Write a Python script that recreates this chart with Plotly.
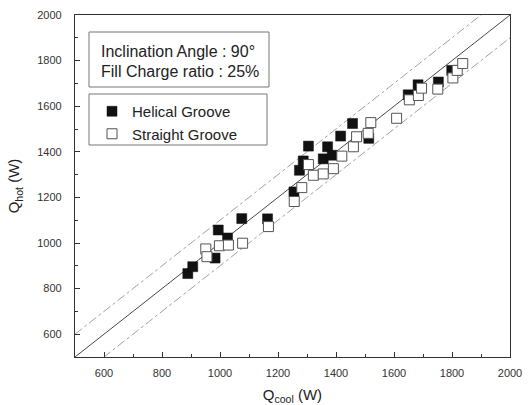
import plotly.graph_objects as go

# Helical groove (filled squares): Q_cool, Q_hot
helical_x = [889, 906, 994, 1026, 983, 1075, 1164, 1255, 1274, 1287, 1305, 1356, 1371, 1387,
             1416, 1457, 1513, 1649, 1683, 1753, 1799]
helical_y = [866, 896, 1057, 1022, 934, 1107, 1106, 1224, 1319, 1360, 1425, 1369, 1422, 1385,
             1469, 1524, 1459, 1650, 1694, 1706, 1757]

# Straight groove (open squares)
straight_x = [951, 955, 998, 1029, 1078, 1167, 1256, 1282, 1305, 1322, 1356, 1391, 1420, 1460,
              1471, 1511, 1520, 1609, 1653, 1684, 1695, 1751, 1803, 1818, 1837]
straight_y = [974, 940, 988, 991, 999, 1072, 1182, 1243, 1344, 1297, 1303, 1326, 1381, 1422,
              1466, 1481, 1528, 1547, 1628, 1647, 1679, 1675, 1724, 1757, 1787]

# Reference lines: y = x and y = x +/- band
ref_x = [500, 2000]
band = 100

x_ticks = [600, 800, 1000, 1200, 1400, 1600, 1800, 2000]
y_ticks = [600, 800, 1000, 1200, 1400, 1600, 1800, 2000]

FONT = "Liberation Sans, Arial, sans-serif"
L, R, T, B = 75, 22, 15, 48
PW, PH = 532 - L - R, 405 - T - B


def px_x(p):
    return (p - L) / PW


def px_y(p):
    return (405 - B - p) / PH


fig = go.Figure()

fig.add_trace(go.Scatter(x=ref_x, y=[v + band for v in ref_x], mode="lines",
                         line=dict(color="#888", width=0.8, dash="dashdot"),
                         showlegend=False, hoverinfo="skip"))
fig.add_trace(go.Scatter(x=ref_x, y=ref_x, mode="lines",
                         line=dict(color="#333", width=0.9),
                         showlegend=False, hoverinfo="skip"))
fig.add_trace(go.Scatter(x=ref_x, y=[v - band for v in ref_x], mode="lines",
                         line=dict(color="#888", width=0.8, dash="dashdot"),
                         showlegend=False, hoverinfo="skip"))

fig.add_trace(go.Scatter(x=helical_x, y=helical_y, mode="markers", name="Helical Groove",
                         marker=dict(symbol="square", size=10, color="#111",
                                     line=dict(color="#111", width=0.5))))
fig.add_trace(go.Scatter(x=straight_x, y=straight_y, mode="markers", name="Straight Groove",
                         marker=dict(symbol="square", size=10, color="white",
                                     line=dict(color="#555", width=1))))

# info box
fig.add_shape(type="rect", xref="paper", yref="paper",
              x0=px_x(89), x1=px_x(269), y0=px_y(87), y1=px_y(32),
              line=dict(color="#777", width=1), fillcolor="rgba(0,0,0,0)")
# legend frame
fig.add_shape(type="rect", xref="paper", yref="paper",
              x0=px_x(89), x1=px_x(267), y0=px_y(145), y1=px_y(94),
              line=dict(color="#777", width=1), fillcolor="rgba(0,0,0,0)")
fig.add_annotation(xref="paper", yref="paper", x=px_x(99), y=px_y(51),
                   text="Inclination Angle : 90°", showarrow=False, xanchor="left",
                   yanchor="middle", font=dict(family=FONT, size=16, color="#222"))
fig.add_annotation(xref="paper", yref="paper", x=px_x(99), y=px_y(71),
                   text="Fill Charge ratio : 25%", showarrow=False, xanchor="left",
                   yanchor="middle", font=dict(family=FONT, size=16, color="#222"))

fig.update_layout(
    width=532, height=405,
    margin=dict(l=L, r=R, t=T, b=B),
    paper_bgcolor="white", plot_bgcolor="white",
    font=dict(family=FONT, color="#222"),
    legend=dict(x=px_x(92), y=px_y(95), xanchor="left", yanchor="top",
                borderwidth=0, bgcolor="rgba(0,0,0,0)",
                font=dict(family=FONT, size=15, color="#222"),
                itemwidth=30, tracegroupgap=0),
)

fig.update_xaxes(range=[500, 2000], tickvals=x_ticks, ticks="inside", ticklen=5,
                 tickcolor="#333", showline=True, linecolor="#333", linewidth=1.2,
                 mirror=True, showgrid=False, zeroline=False, automargin=False,
                 tickfont=dict(family=FONT, size=11, color="#333"), ticklabelstandoff=6,
                 minor=dict(dtick=100, ticks="inside", ticklen=3, tickcolor="#333"),
                 title=dict(text="Q<sub>cool</sub> (W)", font=dict(family=FONT, size=15),
                            standoff=15))
fig.update_yaxes(range=[500, 2000], tickvals=y_ticks, ticks="inside", ticklen=5,
                 tickcolor="#333", showline=True, linecolor="#333", linewidth=1.2,
                 mirror=True, showgrid=False, zeroline=False, automargin=False,
                 tickfont=dict(family=FONT, size=11, color="#333"), ticklabelstandoff=10,
                 minor=dict(dtick=100, ticks="inside", ticklen=3, tickcolor="#333"),
                 title=dict(text="Q<sub>hot</sub> (W)", font=dict(family=FONT, size=15),
                            standoff=13))

fig.write_html("out.html", config={"displayModeBar": False},
               post_script="document.body.style.margin='0';")
